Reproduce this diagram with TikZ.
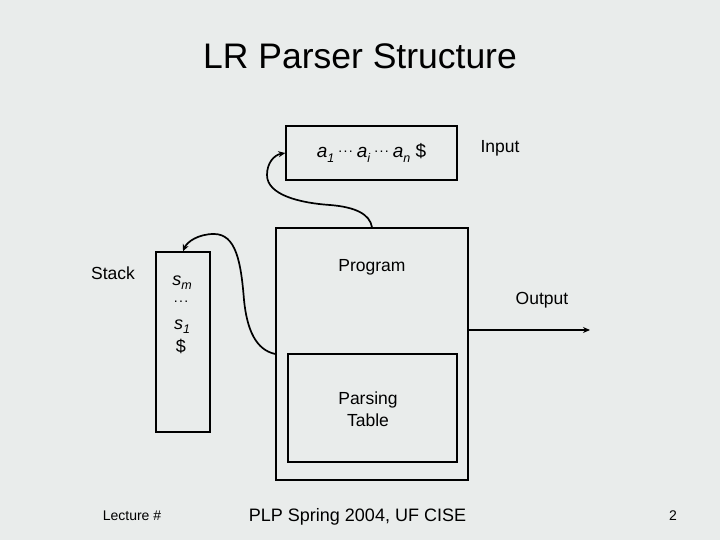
\documentclass[tikz,border=0pt]{standalone}
\usepackage{fontspec}
\setmainfont{Liberation Sans}
\usetikzlibrary{arrows.meta}
\definecolor{bg}{RGB}{233,236,235}
\tikzset{
  box/.style={draw=black, line width=1.3bp, inner sep=0pt},
  lbl/.style={inner sep=0pt, font=\fontsize{17.5bp}{21bp}\selectfont, align=center},
  conn/.style={line width=1.7bp, -{Stealth[length=7bp,width=6bp]}},
}
\newcommand{\ita}[2]{\textit{#1}\raisebox{-0.45ex}{\fontsize{12.5bp}{14bp}\selectfont\textit{#2}}}
\newcommand{\mydots}{\raisebox{0.55ex}{\fontsize{14bp}{16bp}\selectfont.\kern1.4bp.\kern1.4bp.}}
\begin{document}
\begin{tikzpicture}[x=1bp,y=-1bp]
\fill[bg] (0,0) rectangle (720,540);
\useasboundingbox (0,0) rectangle (720,540);

\node[inner sep=0pt, font=\fontsize{35.5bp}{40bp}\selectfont] (title) at (360,56) {LR Parser Structure};

% input tape
\node[box, minimum width=171bp, minimum height=54bp, font=\fontsize{19bp}{22bp}\selectfont] (inp) at (371.5,153)
  {\ita{a}{1}\kern4bp\mydots\kern4bp\ita{a}{i}\kern4bp\mydots\kern4bp\ita{a}{n} \$};
\node[lbl] (inlbl) at (500,148) {Input};

% program
\node[box, minimum width=192bp, minimum height=252bp] (prog) at (372,354) {};
\node[lbl] (proglbl) at (372,267) {Program};
\node[box, minimum width=169bp, minimum height=108bp] (tab) at (372.5,408) {};
\node[lbl, font=\fontsize{17.5bp}{22bp}\selectfont] (tablbl) at (368,409) {Parsing\\Table};

% stack
\node[box, minimum width=54bp, minimum height=180bp] (stack) at (183,342) {};
\node[lbl] (stacklbl) at (113,273) {Stack};
\node[lbl, font=\fontsize{18bp}{21bp}\selectfont] (sm) at (182,283) {\ita{s}{m}};
\node[lbl] (sdots) at (181,304) {\mydots};
\node[lbl, font=\fontsize{18bp}{21bp}\selectfont] (s1) at (182,327) {\ita{s}{1}};
\node[lbl, font=\fontsize{18bp}{21bp}\selectfont] (sdol) at (181,346) {\$};

% output
\node[lbl] (outlbl) at (542,300) {Output};
\coordinate (outend) at (590,330);
\draw[conn, line width=1.5bp] (prog.east |- outend) -- (outend);

% connectors
\draw[conn] (prog.north) .. controls (370,214) and (355,207) .. (330,205)
  .. controls (300,203) and (267,195) .. (267,175)
  .. controls (267,163) and (274,155) .. (inp.west);
\draw[conn] (prog.west) .. controls (256,350) and (247,330) .. (244,300)
  .. controls (241,262) and (236,234) .. (214,234)
  .. controls (198,234) and (187,242) .. (stack.north);

% footer
\node[inner sep=0pt, font=\fontsize{14bp}{16bp}\selectfont] (lec) at (132,516) {Lecture \#};
\node[inner sep=0pt, font=\fontsize{18bp}{21bp}\selectfont] (foot) at (357.5,517) {PLP Spring 2004, UF CISE};
\node[inner sep=0pt, font=\fontsize{14bp}{16bp}\selectfont] (pg) at (673,516) {2};
\end{tikzpicture}
\end{document}
